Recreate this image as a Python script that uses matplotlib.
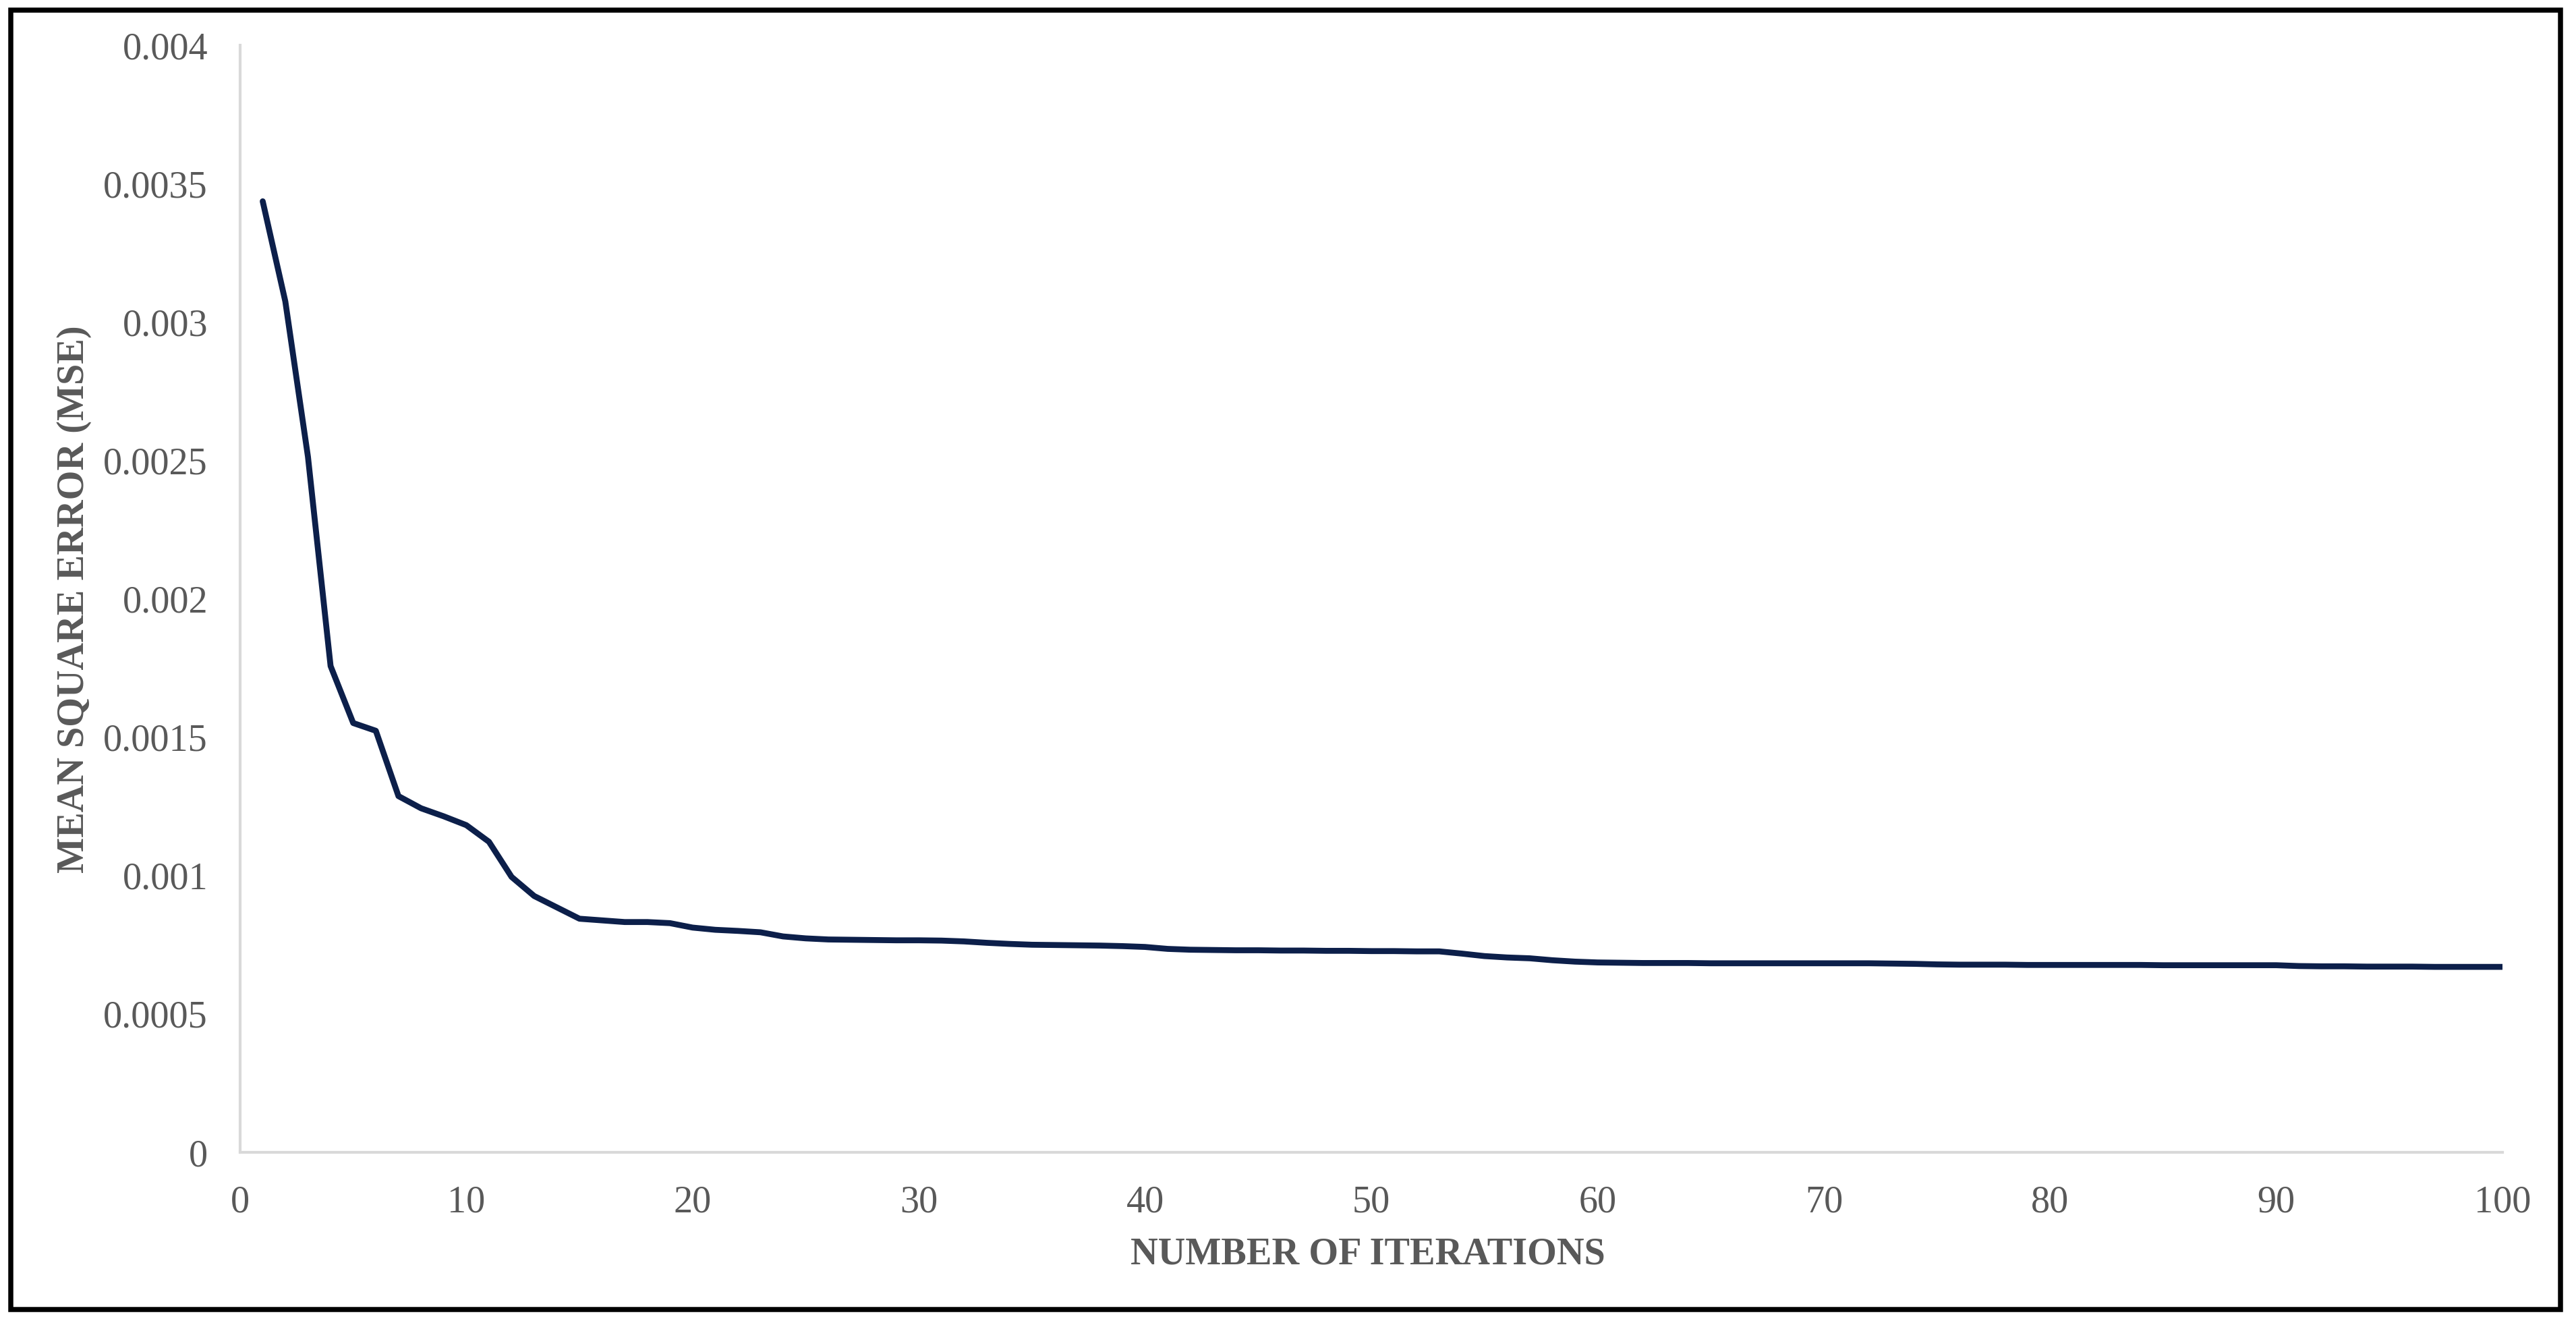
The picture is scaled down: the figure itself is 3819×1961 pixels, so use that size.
import matplotlib
matplotlib.use("Agg")
import matplotlib.pyplot as plt
from matplotlib.patches import Rectangle

# MSE per iteration
iterations = list(range(1, 101))
mse = [
    0.003436, 0.003074, 0.002513, 0.001757, 0.001551, 0.001523, 0.001287, 0.001243, 0.001214, 0.001182,
    0.001122, 0.000995, 0.000926, 0.000885, 0.000844, 0.000838, 0.000832, 0.000832, 0.000828, 0.000812,
    0.000804, 0.000800, 0.000795, 0.000780, 0.000773, 0.000769, 0.000768, 0.000767, 0.000766, 0.000766,
    0.000765, 0.000762, 0.000757, 0.000753, 0.000750, 0.000749, 0.000748, 0.000747, 0.000745, 0.000742,
    0.000735, 0.000732, 0.000731, 0.000730, 0.000730, 0.000729, 0.000729, 0.000728, 0.000728, 0.000727,
    0.000727, 0.000726, 0.000726, 0.000718, 0.000709, 0.000704, 0.000701, 0.000694, 0.000689, 0.000686,
    0.000685, 0.000684, 0.000684, 0.000684, 0.000683, 0.000683, 0.000683, 0.000683, 0.000683, 0.000683,
    0.000683, 0.000683, 0.000682, 0.000681, 0.000679, 0.000678, 0.000678, 0.000678, 0.000677, 0.000677,
    0.000677, 0.000677, 0.000677, 0.000677, 0.000676, 0.000676, 0.000676, 0.000676, 0.000676, 0.000676,
    0.000673, 0.000672, 0.000672, 0.000671, 0.000671, 0.000671, 0.000670, 0.000670, 0.000670, 0.000670,
]

x_ticks = [0, 10, 20, 30, 40, 50, 60, 70, 80, 90, 100]
y_ticks = [0, 0.0005, 0.001, 0.0015, 0.002, 0.0025, 0.003, 0.0035, 0.004]
y_tick_labels = ["0", "0.0005", "0.001", "0.0015", "0.002", "0.0025", "0.003", "0.0035", "0.004"]

plt.rcParams['font.family'] = ['Liberation Serif', 'DejaVu Serif']

fig = plt.figure(figsize=(12.73, 6.537), dpi=300)
ax = fig.add_axes([0.0932, 0.129, 0.8783, 0.8368])

ax.plot(iterations, mse, color='#0c1f4a', lw=2.1, solid_joinstyle='round', solid_capstyle='round')

ax.set_xlim(0, 100)
ax.set_ylim(0, 0.004)
ax.set_xticks(x_ticks)
ax.set_xticklabels([str(t) for t in x_ticks])
ax.set_yticks(y_ticks)
ax.set_yticklabels(y_tick_labels)
ax.tick_params(axis='both', length=0, pad=11.5, labelsize=13.5, labelcolor='#595959')

for s in ['top', 'right']:
    ax.spines[s].set_visible(False)
for s in ['left', 'bottom']:
    ax.spines[s].set_color('#d9d9d9')
    ax.spines[s].set_linewidth(1.0)

fig.text(0.531, 0.052, "NUMBER OF ITERATIONS", ha='center', va='center',
         fontsize=13.5, fontweight='bold', color='#595959')
fig.text(0.0288, 0.547, "MEAN SQUARE ERROR (MSE)", ha='center', va='center', rotation=90,
         fontsize=13.5, fontweight='bold', color='#595959')

# black frame round the whole picture
fig.patches.append(Rectangle((0.0042, 0.0102), 0.9898, 0.9822, transform=fig.transFigure,
                             fill=False, edgecolor='black', lw=1.8))

fig.savefig("out.png", dpi=300, facecolor='white')
